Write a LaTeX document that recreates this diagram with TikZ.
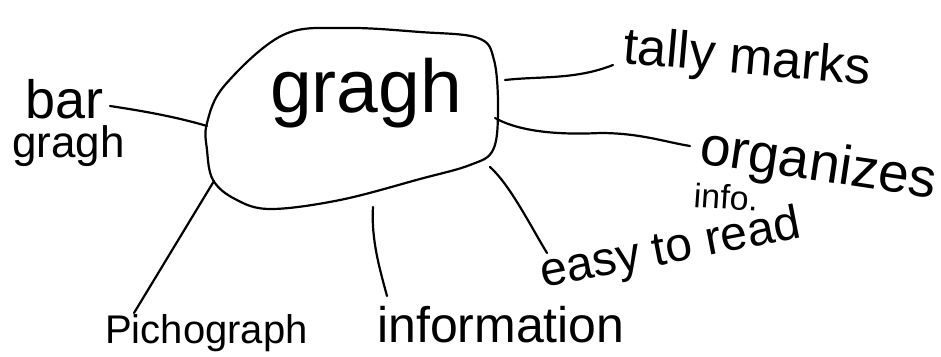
\documentclass[tikz,border=0pt]{standalone}
\usepackage{fontspec}
\setmainfont{Liberation Sans}
\begin{document}
\begin{tikzpicture}[x=1pt,y=-1pt,
  ink/.style={line width=2.2pt,line cap=round,line join=round},
  lbl/.style={inner sep=0pt,anchor=base west},
  fs/.style={font=\fontsize{#1}{#1}\selectfont}]
\useasboundingbox (0,0) rectangle (941,356);
% central blob
\draw[ink] plot[smooth cycle,tension=0.6] coordinates {(283,35) (345,28) (420,32) (478,38) (494,60) (498,110) (493,150) (470,165) (420,179) (340,200) (270,209) (235,199) (213,180) (207,150) (207,123) (225,85)};
\node[lbl,fs=75] (c) at (270,112) {gragh};
% labels
\node[lbl,fs=54] (bar) at (25,118) {bar};
\node[lbl,fs=44] (bar2) at (12,157) {gragh};
\node[lbl,fs=52,rotate=-5] (tally) at (622,63) {tally marks};
\node[lbl,fs=55,rotate=-8.5] (org) at (698,163) {organizes};
\node[lbl,fs=34,rotate=-4] (info) at (693,207) {info.};
\node[lbl,fs=48,rotate=11] (easy) at (543,288) {easy to read};
\node[lbl,fs=50] (inf) at (377,342) {information};
\node[lbl,fs=40] (pic) at (105,343) {Pichograph};
% connectors
\coordinate (b1) at (110,106); \coordinate (b2) at (207,126);
\draw[ink] (b1) .. controls (150,112) and (180,118) .. (b2);
\coordinate (t1) at (505,80); \coordinate (t2) at (613,65);
\draw[ink] (t1) .. controls (540,76) and (575,80) .. (t2);
\coordinate (o1) at (495,118); \coordinate (o2) at (690,146);
\draw[ink] (o1) .. controls (520,132) and (560,135) .. (600,133) .. controls (640,133) and (665,142) .. (o2);
\coordinate (e1) at (490,167); \coordinate (e2) at (547,253);
\draw[ink] (e1) .. controls (510,185) and (530,225) .. (e2);
\coordinate (i1) at (373,207); \coordinate (i2) at (387,296);
\draw[ink] (i1) .. controls (371,240) and (380,270) .. (i2);
\coordinate (p1) at (214,181); \coordinate (p2) at (134,313);
\draw[ink] (p1) -- (p2);
\end{tikzpicture}
\end{document}
